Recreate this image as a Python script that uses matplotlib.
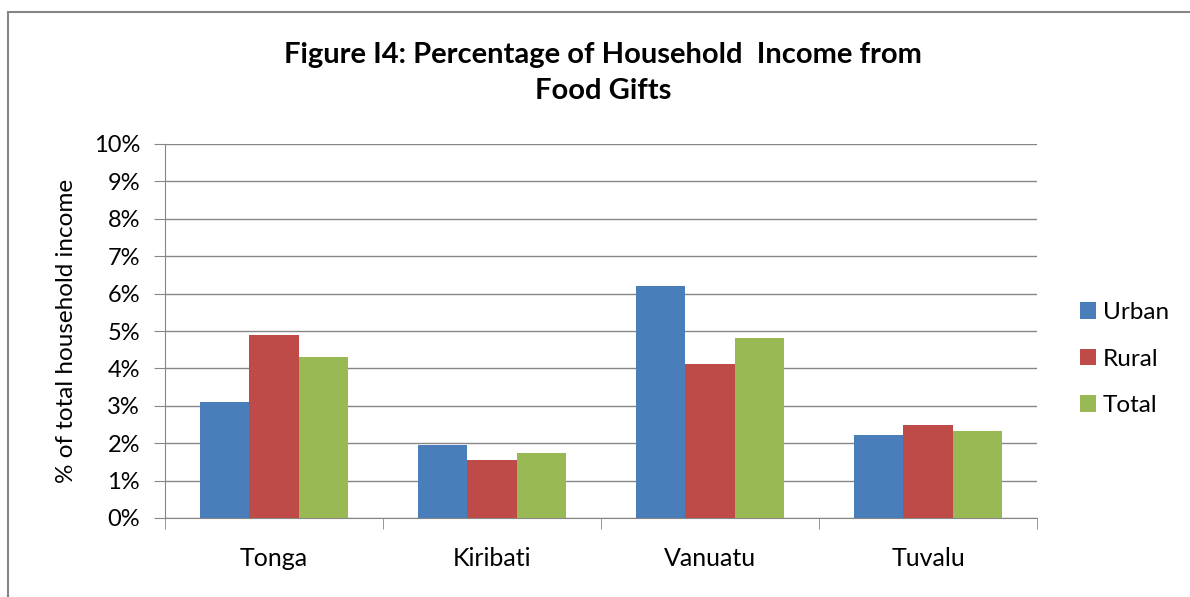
import numpy as np
import matplotlib
matplotlib.use('Agg')
import matplotlib.pyplot as plt
from matplotlib.ticker import PercentFormatter
from matplotlib.patches import Rectangle

plt.rcParams['font.family'] = ['Lato', 'DejaVu Sans']

countries = ["Tonga", "Kiribati", "Vanuatu", "Tuvalu"]
series = ["Urban", "Rural", "Total"]
urban = [3.1, 1.95, 6.2, 2.22]
rural = [4.9, 1.55, 4.12, 2.5]
total = [4.3, 1.74, 4.8, 2.33]
colors = ["#4a7ebb", "#be4b48", "#98b954"]

fig = plt.figure(figsize=(11.9, 5.97), dpi=100)
ax = fig.add_axes([165/1190, 1 - 518/597, (1037-165)/1190, (518-144)/597])

# chart border
fig.patches.append(Rectangle((8/1190, -0.1), 1.2, 1 - 12/597 + 0.1, transform=fig.transFigure,
                             fill=False, edgecolor="#868686", linewidth=1.5))

x = np.arange(len(countries))
w = 0.225
for i, (vals, name) in enumerate(zip([urban, rural, total], series)):
    ax.bar(x + (i - 1) * w, vals, w, color=colors[i], label=name, zorder=3)

ax.set_xlim(-0.5, 3.5)
ax.set_ylim(0, 10)
ax.set_yticks(range(0, 11))
ax.yaxis.set_major_formatter(PercentFormatter(decimals=0))
ax.grid(axis='y', color="#868686", linewidth=1, zorder=0)

ax.set_xticks(x)
ax.set_xticklabels(countries, fontsize=18)
ax.set_xticks(np.arange(-0.5, 4, 1), minor=True)
ax.tick_params(axis='x', which='major', length=0, pad=21)
ax.tick_params(axis='x', which='minor', length=8, color="#868686", direction='out')
ax.tick_params(axis='y', length=8, color="#868686", labelsize=17, pad=10)

for s in ["top", "right"]:
    ax.spines[s].set_visible(False)
for s in ["left", "bottom"]:
    ax.spines[s].set_color("#868686")

ax.set_ylabel("% of total household income", fontsize=17.5, labelpad=12)

fig.text(603/1190, 1 - 73/597, "Figure I4: Percentage of Household  Income from\nFood Gifts",
         ha='center', va='center', fontsize=21, fontweight='bold', linespacing=1.45)

leg = ax.legend(loc='center left', bbox_to_anchor=(1.024, 0.425), frameon=False,
                fontsize=17.5, handlelength=0.65, handleheight=0.65, handletextpad=0.3,
                labelspacing=1.05)

fig.savefig("out.png", dpi=100)
